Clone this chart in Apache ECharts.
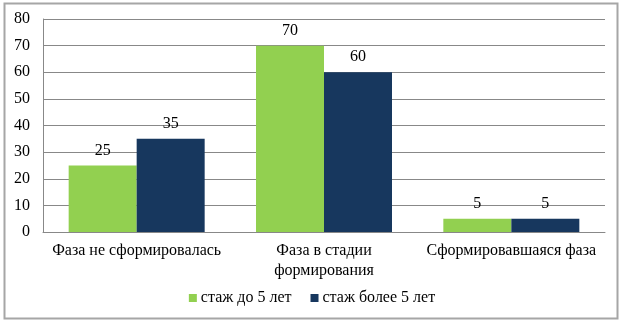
<!DOCTYPE html>
<html>
<head>
<meta charset="utf-8">
<script src="https://cdn.jsdelivr.net/npm/echarts@6/dist/echarts.min.js"></script>
<style>
  html, body { margin: 0; padding: 0; background: #fff; }
  #chart { width: 624px; height: 324px; }
</style>
</head>
<body>
<div id="chart"></div>
<script>
  var categories = ['Фаза не сформировалась', 'Фаза в стадии\nформирования', 'Сформировавшаяся фаза']
  var seriesNames = ['стаж до 5 лет', 'стаж более 5 лет']
  var shortStage = [25, 70, 5]
  var longStage = [35, 60, 5]
  var yTicks = [0, 10, 20, 30, 40, 50, 60, 70, 80]

  var font = '"Liberation Serif", "Times New Roman", serif'
  var colors = ['#92D050', '#17375E']

  var chart = echarts.init(document.getElementById('chart'))

  function barSeries(name, data, color) {
    return {
      name: name,
      type: 'bar',
      data: data,
      barWidth: 68,
      barGap: '0%',
      itemStyle: { color: color },
      label: {
        show: true,
        position: 'top',
        distance: 7,
        color: '#000',
        fontFamily: font,
        fontSize: 16
      }
    }
  }

  chart.setOption({
    animation: false,
    textStyle: { fontFamily: font },
    graphic: [{
      type: 'rect',
      shape: { x: 4.5, y: 3.5, width: 613, height: 315 },
      style: { fill: 'none', stroke: '#a6a6a6', lineWidth: 2 },
      z: 0
    }],
    grid: { left: 43, right: 19, top: 19, bottom: 92 },
    legend: {
      bottom: 13,
      left: 'center',
      itemWidth: 8,
      itemHeight: 8,
      itemGap: 19,
      icon: 'rect',
      textStyle: { color: '#000', fontFamily: font, fontSize: 16, padding: [0, 0, 0, -1] },
      data: seriesNames
    },
    xAxis: {
      type: 'category',
      data: categories,
      axisLine: { lineStyle: { color: '#888', width: 1 } },
      axisTick: { show: false },
      axisLabel: { color: '#000', fontFamily: font, fontSize: 16, margin: 9, lineHeight: 20, interval: 0 }
    },
    yAxis: {
      type: 'value',
      min: yTicks[0],
      max: yTicks[yTicks.length - 1],
      interval: 10,
      axisLine: { show: true, lineStyle: { color: '#888', width: 1 } },
      axisTick: { show: false },
      axisLabel: { color: '#000', fontFamily: font, fontSize: 16, margin: 13 },
      splitLine: { lineStyle: { color: '#888', width: 1 } }
    },
    series: [
      barSeries(seriesNames[0], shortStage, colors[0]),
      barSeries(seriesNames[1], longStage, colors[1])
    ]
  })
</script>
</body>
</html>
